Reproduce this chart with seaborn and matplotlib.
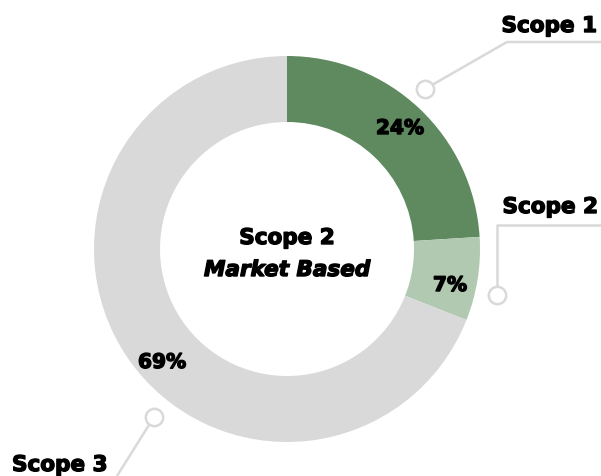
import matplotlib.pyplot as plt
import matplotlib.patheffects as pe
import seaborn as sns

# data
scopes = ['Scope 1', 'Scope 2', 'Scope 3']
shares = [24, 7, 69]
colors = ['#5f8a5f', '#b1c8b1', '#d9d9d9']

sns.set_theme(style='white')
plt.rcParams['font.family'] = ['DejaVu Sans']
plt.rcParams['text.color'] = 'black'

W, H = 601, 477
fig = plt.figure(figsize=(W / 100, H / 100), dpi=100)
ax = fig.add_axes([0, 0, 1, 1])

cx, cy = 287, H - 250
R = 193
ax.pie(shares, colors=colors, startangle=90, counterclock=False,
       center=(cx, cy), radius=R, frame=True,
       wedgeprops=dict(width=66, edgecolor='none'))
ax.set_xlim(0, W)
ax.set_ylim(0, H)
ax.set_aspect('equal')
ax.axis('off')

heavy = [pe.withStroke(linewidth=1.0, foreground='black')]

# percentage labels (x centre, baseline)
pct_pos = [(400, 135), (450, 292), (162, 369)]
for v, (x, y) in zip(shares, pct_pos):
    ax.text(x, H - y, f'{v}%', ha='center', va='baseline', fontsize=14.5,
            fontweight='bold', color='black', path_effects=heavy)

# centre text
ax.text(cx, H - 245, 'Scope 2', ha='center', va='baseline', fontsize=15.5,
        fontweight='bold', color='black', path_effects=heavy)
ax.text(cx, H - 277, 'Market Based', ha='center', va='baseline', fontsize=15.5,
        fontweight='bold', style='italic', color='black', path_effects=heavy)

# leader lines
line_c = '#d9d9d9'
leaders = [
    [(425, 90), (507, 43), (601, 43)],
    [(497, 296), (497, 226), (601, 226)],
    [(154, 418), (117, 477)],
]
for pts in leaders:
    xs = [p[0] for p in pts]
    ys = [H - p[1] for p in pts]
    ax.plot(xs, ys, color=line_c, lw=1.8, solid_capstyle='butt', zorder=3)
    ax.plot(xs[0], ys[0], 'o', ms=12.5, mfc='white', mec=line_c, mew=1.8, zorder=4)

# scope labels
ax.text(597, H - 33, scopes[0], ha='right', va='baseline', fontsize=15.5,
        fontweight='bold', color='black', path_effects=heavy)
ax.text(598, H - 214, scopes[1], ha='right', va='baseline', fontsize=15.5,
        fontweight='bold', color='black', path_effects=heavy)
ax.text(12, H - 472, scopes[2], ha='left', va='baseline', fontsize=15.5,
        fontweight='bold', color='black', path_effects=heavy)

fig.savefig('out.png', dpi=100)
